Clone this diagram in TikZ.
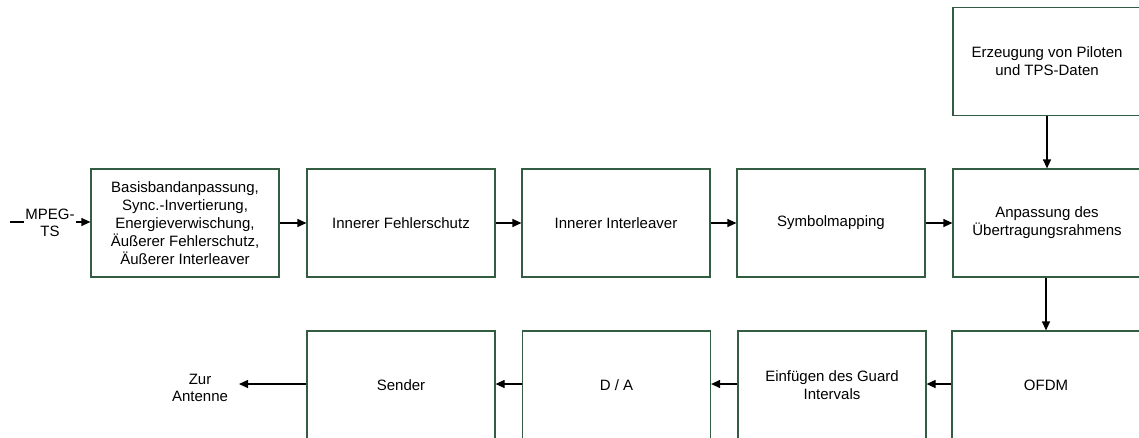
\documentclass[tikz,border=0pt]{standalone}
\usepackage{fontspec}
\setmainfont{Liberation Sans}
\usetikzlibrary{arrows.meta}
\definecolor{boxedge}{HTML}{345C42}
\tikzset{
  blk/.style={draw=boxedge, line width=1.2pt, minimum width=188pt, minimum height=108pt,
    inner sep=0pt, align=center, font=\fontsize{15}{18}\selectfont},
  flow/.style={draw=black, line width=1.2pt, -{Triangle[length=9pt,width=8pt]}},
  lbl/.style={align=center, font=\fontsize{15}{17}\selectfont, inner sep=1pt}
}
\begin{document}
\begin{tikzpicture}[x=1pt,y=-1pt]
\useasboundingbox (0,0) rectangle (1139,437);
\clip (0,0) rectangle (1139,437);
% upper chain
\node[blk] (bb)  at (185,223) {Basisbandanpassung,\\Sync.-Invertierung,\\Energieverwischung,\\Äußerer Fehlerschutz,\\Äußerer Interleaver};
\node[blk] (ifs) at (401,223) {Innerer Fehlerschutz};
\node[blk] (iil) at (616,223) {Innerer Interleaver};
\node[blk] (sym) at (831,223) {Symbolmapping};
\node[blk] (anp) at (1047,223) {Anpassung des\\Übertragungsrahmens};
\node[blk] (pil) at (1047,61.5) {Erzeugung von Piloten\\und TPS-Daten};
% lower chain
\node[blk] (ofdm) at (1046,385) {OFDM};
\node[blk] (gi)   at (832,385) {Einfügen des Guard\\Intervals};
\node[blk] (da)   at (616.5,385) {D / A};
\node[blk] (snd)  at (401,385) {Sender};
% input and output
\coordinate (in) at (10,222);
\node[lbl] (ant) at (200,388) {Zur\\Antenne};
\coordinate (antend) at (239,384);
\draw[flow] (in) -- (bb.west |- in);
\node[lbl, fill=white, inner sep=1.5pt] (mpeg) at (50,223) {MPEG-\\TS};
% connectors
\draw[flow] (bb) -- (ifs);
\draw[flow] (ifs) -- (iil);
\draw[flow] (iil) -- (sym);
\draw[flow] (sym) -- (anp);
\draw[flow] (pil) -- (anp);
\draw[flow] (anp.south -| ofdm.north) -- (ofdm.north);
\draw[flow] (ofdm.west |- 0,384) -- (gi.east |- 0,384);
\draw[flow] (gi.west |- 0,384) -- (da.east |- 0,384);
\draw[flow] (da.west |- 0,384) -- (snd.east |- 0,384);
\draw[flow] (snd.west |- 0,384) -- (antend);
\end{tikzpicture}
\end{document}
